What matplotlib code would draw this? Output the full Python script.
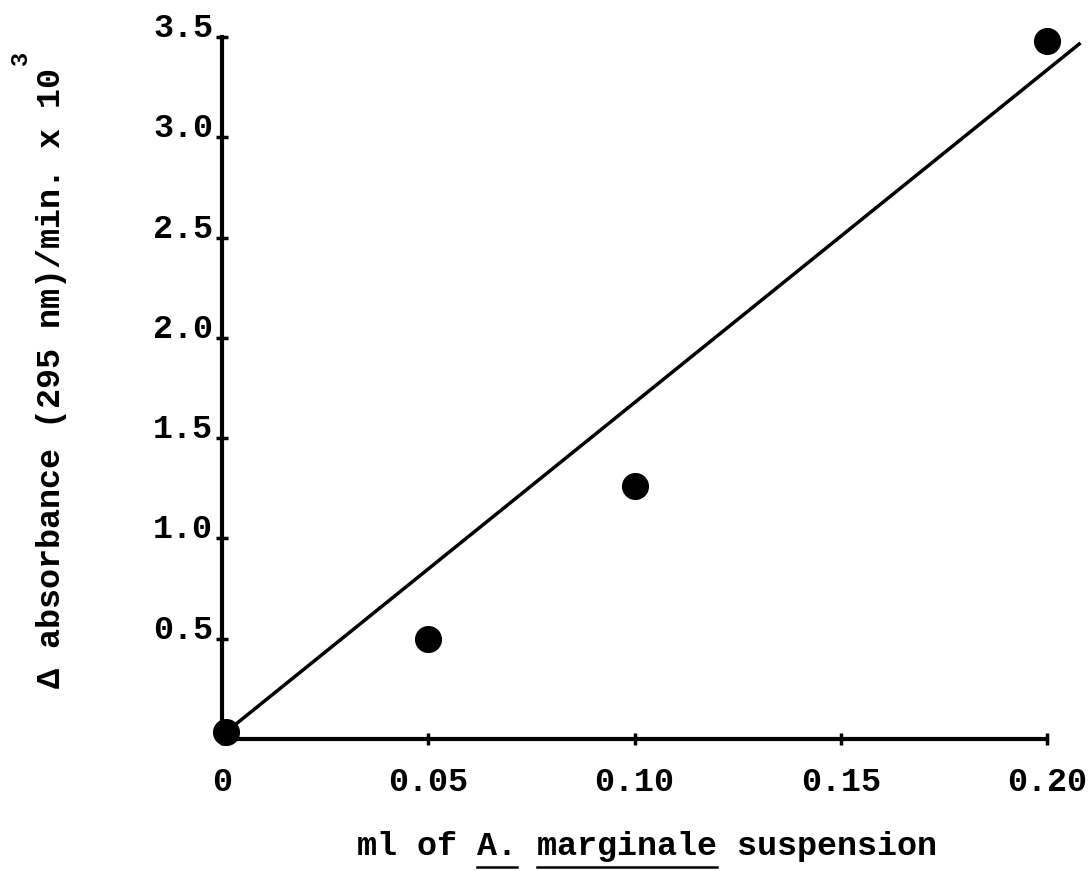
import matplotlib
matplotlib.use('Agg')
import matplotlib.pyplot as plt
from matplotlib.lines import Line2D

plt.rcParams['font.family'] = ['Liberation Mono', 'DejaVu Sans Mono']
plt.rcParams['font.weight'] = 'bold'

# ml of suspension vs delta absorbance (x 10^3)
ml_susp = [0.001, 0.05, 0.10, 0.20]
absorb = [0.035, 0.50, 1.26, 3.48]

# hand drawn line, end points
fit_x = [0.001, 0.2078]
fit_y = [0.035, 3.465]

xticks = [0, 0.05, 0.10, 0.15, 0.20]
xtick_labels = ['0', '0.05', '0.10', '0.15', '0.20']
yticks = [0.5, 1.0, 1.5, 2.0, 2.5, 3.0, 3.5]
ytick_labels = ['0.5', '1.0', '1.5', '2.0', '2.5', '3.0', '3.5']

W, H = 1088, 871
fig = plt.figure(figsize=(W / 100, H / 100), dpi=100)
ax = fig.add_axes([222 / W, (H - 739) / H, 825 / W, 702 / H])

ax.plot(fit_x, fit_y, '-', color='black', lw=2.5, clip_on=False, zorder=2)
ax.plot(ml_susp, absorb, 'o', color='black', ms=18.5, clip_on=False, zorder=3)

ax.set_xlim(0, 0.20)
ax.set_ylim(0, 3.5)
for s in ['top', 'right']:
    ax.spines[s].set_visible(False)
for s in ['left', 'bottom']:
    ax.spines[s].set_linewidth(3)

ax.set_xticks(xticks)
ax.set_xticklabels(xtick_labels, fontsize=24)
ax.set_yticks(yticks)
ax.set_yticklabels(ytick_labels, fontsize=24)
ax.tick_params(axis='x', direction='inout', length=9, width=2.5, pad=16)
ax.tick_params(axis='y', direction='inout', length=9, width=2.5, pad=2)
for lab in ax.get_yticklabels():
    lab.set_va('baseline')

# y label, superscript drawn apart
ylab = fig.text(60 / W, 1 - 688 / H, '\u0394 absorbance (295 nm)/min. x 10',
                rotation=90, rotation_mode='anchor', ha='left', va='baseline',
                fontsize=24)

xlab = 'ml of A. marginale suspension'
t = fig.text(647 / W, 1 - 855 / H, xlab, ha='center', va='baseline', fontsize=24)

fig.canvas.draw()
yb = ylab.get_window_extent()
fig.text(27 / W, (yb.y1 + 3) / H, '3', rotation=90,
         rotation_mode='anchor', ha='left', va='baseline', fontsize=17)

# underline "A." and "marginale"
bb = t.get_window_extent()
cw = bb.width / len(xlab)
uy = 1 - 867 / H
for i0, i1 in [(6, 8), (9, 18)]:
    x0 = (bb.x0 + i0 * cw) / W
    x1 = (bb.x0 + i1 * cw) / W
    fig.add_artist(Line2D([x0, x1], [uy, uy], color='black', lw=1.8,
                          transform=fig.transFigure))

fig.savefig('out.png', dpi=100)
